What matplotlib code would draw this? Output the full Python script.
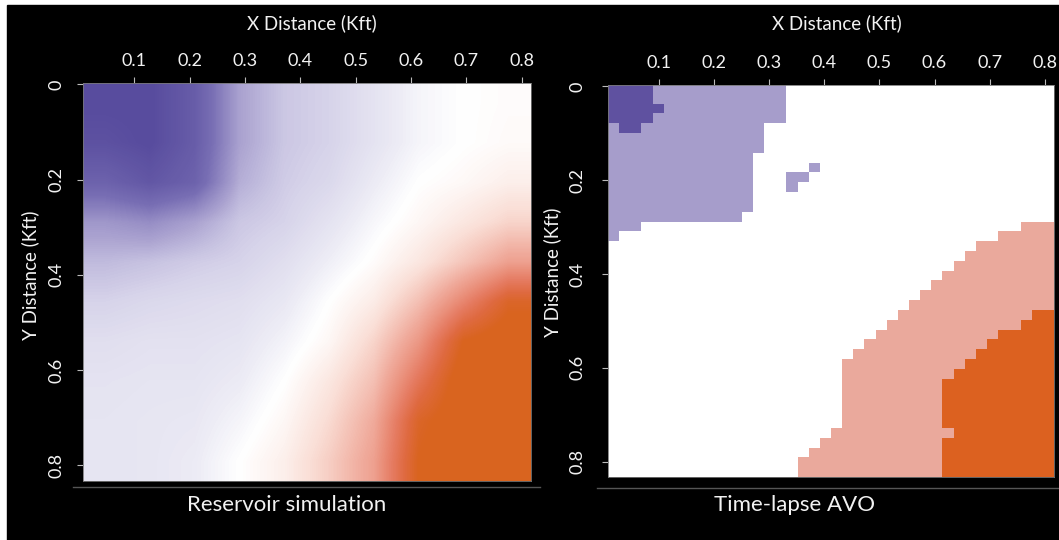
import numpy as np
import matplotlib
matplotlib.use('Agg')
import matplotlib.pyplot as plt
from matplotlib.colors import LinearSegmentedColormap, ListedColormap
from matplotlib.patches import Rectangle
from matplotlib.lines import Line2D

plt.rcParams['font.family'] = ['Lato', 'DejaVu Sans']

# Axis ticks (Kft)
x_ticks = [0.1, 0.2, 0.3, 0.4, 0.5, 0.6, 0.7, 0.8]
x_labels = ['0.1', '0.2', '0.3', '0.4', '0.5', '0.6', '0.7', '0.8']
y_ticks = [0.0, 0.2, 0.4, 0.6, 0.8]
y_labels = ['0', '0.2', '0.4', '0.6', '0.8']
x_range = (0.007, 0.817)
y_range = (-0.003, 0.833)

# Reservoir simulation (-1 = purple, 0 = white, 1 = orange)
sim = [
    [-1.00, -1.00, -0.85, -0.45, -0.30, -0.25, -0.15, -0.05, 0.00, 0.02],
    [-0.95, -1.00, -0.85, -0.45, -0.30, -0.25, -0.15, -0.05, 0.00, 0.03],
    [-0.80, -0.90, -0.80, -0.40, -0.28, -0.22, -0.10, 0.00, 0.04, 0.10],
    [-0.50, -0.55, -0.45, -0.30, -0.25, -0.15, -0.04, 0.05, 0.15, 0.25],
    [-0.35, -0.32, -0.28, -0.25, -0.18, -0.08, 0.02, 0.15, 0.32, 0.50],
    [-0.25, -0.22, -0.20, -0.18, -0.12, 0.00, 0.12, 0.35, 0.65, 0.95],
    [-0.18, -0.16, -0.16, -0.14, -0.06, 0.05, 0.25, 0.55, 1.00, 1.10],
    [-0.15, -0.14, -0.14, -0.10, 0.00, 0.15, 0.35, 0.75, 1.10, 1.10],
    [-0.14, -0.13, -0.12, -0.05, 0.05, 0.22, 0.45, 0.95, 1.10, 1.10],
    [-0.14, -0.13, -0.10, 0.00, 0.10, 0.28, 0.50, 1.00, 1.10, 1.10],
]

# Time-lapse AVO classes, one run-length row per 40-cell line
# B dark purple, b light purple, . white, r pink, R orange
avo_rows = [
    "B4 b12 .24", "B4 b12 .24", "B5 b11 .24", "B4 b12 .24",
    "b1 B2 b11 .26", "b14 .26", "b14 .26", "b13 .27",
    "b13 .5 b1 .21", "b13 .3 b2 .22", "b13 .3 b1 .23", "b13 .27",
    "b13 .27", "b12 .28", "b3 .34 r3", "b1 .34 r5",
    ".33 r7", ".32 r8", ".31 r9", ".30 r10",
    ".29 r11", ".28 r12", ".27 r13", ".26 r12 R2",
    ".25 r12 R3", ".24 r11 R5", ".23 r11 R6", ".22 r11 R7",
    ".21 r11 R8", ".21 r10 R9", ".21 r9 R10", ".21 r9 R10",
    ".21 r9 R10", ".21 r9 R10", ".21 r9 R10", ".20 r11 R9",
    ".19 r11 R10", ".18 r12 R10", ".17 r13 R10", ".17 r13 R10",
]
avo_codes = {'B': 0, 'b': 1, '.': 2, 'r': 3, 'R': 4}

avo = []
for row in avo_rows:
    line = []
    for tok in row.split():
        line += [avo_codes[tok[0]]] * int(tok[1:])
    avo.append(line)
avo = np.array(avo)

sim_cmap = LinearSegmentedColormap.from_list('sim', [
    (0.0, '#584c9e'), (0.15, '#786eb4'), (0.275, '#aaa2d0'),
    (0.375, '#d7d4ea'), (0.45, '#ecebf5'), (0.5, '#ffffff'),
    (0.6, '#fadfd7'), (0.725, '#f0aa9b'), (0.85, '#e67d64'),
    (0.925, '#df6a40'), (1.0, '#d9641f')])
avo_cmap = ListedColormap(['#5f51a0', '#a69dcb', '#ffffff', '#eaa99c', '#dc6120'])

W, H = 1059, 540
fig = plt.figure(figsize=(W / 100, H / 100), dpi=100)
fig.patch.set_facecolor('white')
fig.add_artist(Rectangle((7 / W, 0), 1 - 7 / W, 1 - 5 / H,
                         transform=fig.transFigure, color='black', zorder=-10))

ext = [x_range[0], x_range[1], y_range[1], y_range[0]]
txt = '#f2f2f2'

ax1 = fig.add_axes([83 / W, 59 / H, 448 / W, 398 / H])
ax1.imshow(np.array(sim), cmap=sim_cmap, vmin=-1, vmax=1, extent=ext,
           origin='upper', interpolation='bilinear', aspect='auto')

ax2 = fig.add_axes([608 / W, 63 / H, 446 / W, 392 / H])
ax2.imshow(avo, cmap=avo_cmap, vmin=-0.5, vmax=4.5, extent=ext,
           origin='upper', interpolation='nearest', aspect='auto')

for ax, ypad in [(ax1, 9), (ax2, 12)]:
    ax.set_facecolor('black')
    ax.xaxis.tick_top()
    ax.set_xticks(x_ticks)
    ax.set_xticklabels(x_labels)
    ax.set_yticks(y_ticks)
    ax.set_yticklabels(y_labels, rotation=90, va='center')
    ax.tick_params(axis='x', colors='#bbbbbb', labelcolor=txt, labelsize=13,
                   length=4, pad=6)
    ax.tick_params(axis='y', colors='#bbbbbb', labelcolor=txt, labelsize=13,
                   length=4, pad=ypad)
    for s in ax.spines.values():
        s.set_color('#777777')
        s.set_linewidth(0.6)

# axis titles and captions
fig.text(312 / W, 1 - 23 / H, 'X Distance (Kft)', color=txt, fontsize=13.5,
         ha='center', va='center')
fig.text(837 / W, 1 - 23 / H, 'X Distance (Kft)', color=txt, fontsize=13.5,
         ha='center', va='center')
fig.text(30 / W, 1 - 275 / H, 'Y Distance (Kft)', color=txt, fontsize=13.5,
         ha='center', va='center', rotation=90)
fig.text(552 / W, 1 - 272 / H, 'Y Distance (Kft)', color=txt, fontsize=13.5,
         ha='center', va='center', rotation=90)
fig.text(287 / W, 1 - 505 / H, 'Reservoir simulation', color=txt, fontsize=16,
         ha='center', va='center')
fig.text(794 / W, 1 - 505 / H, 'Time-lapse AVO', color=txt, fontsize=16,
         ha='center', va='center')

# thin grey baselines under the panels
fig.add_artist(Line2D([73 / W, 540 / W], [1 - 487 / H] * 2, transform=fig.transFigure,
                      color='#555555', lw=1))
fig.add_artist(Line2D([597 / W, 1.0], [1 - 488 / H] * 2, transform=fig.transFigure,
                      color='#555555', lw=1))

fig.savefig('out.png', dpi=100, facecolor=fig.get_facecolor())
